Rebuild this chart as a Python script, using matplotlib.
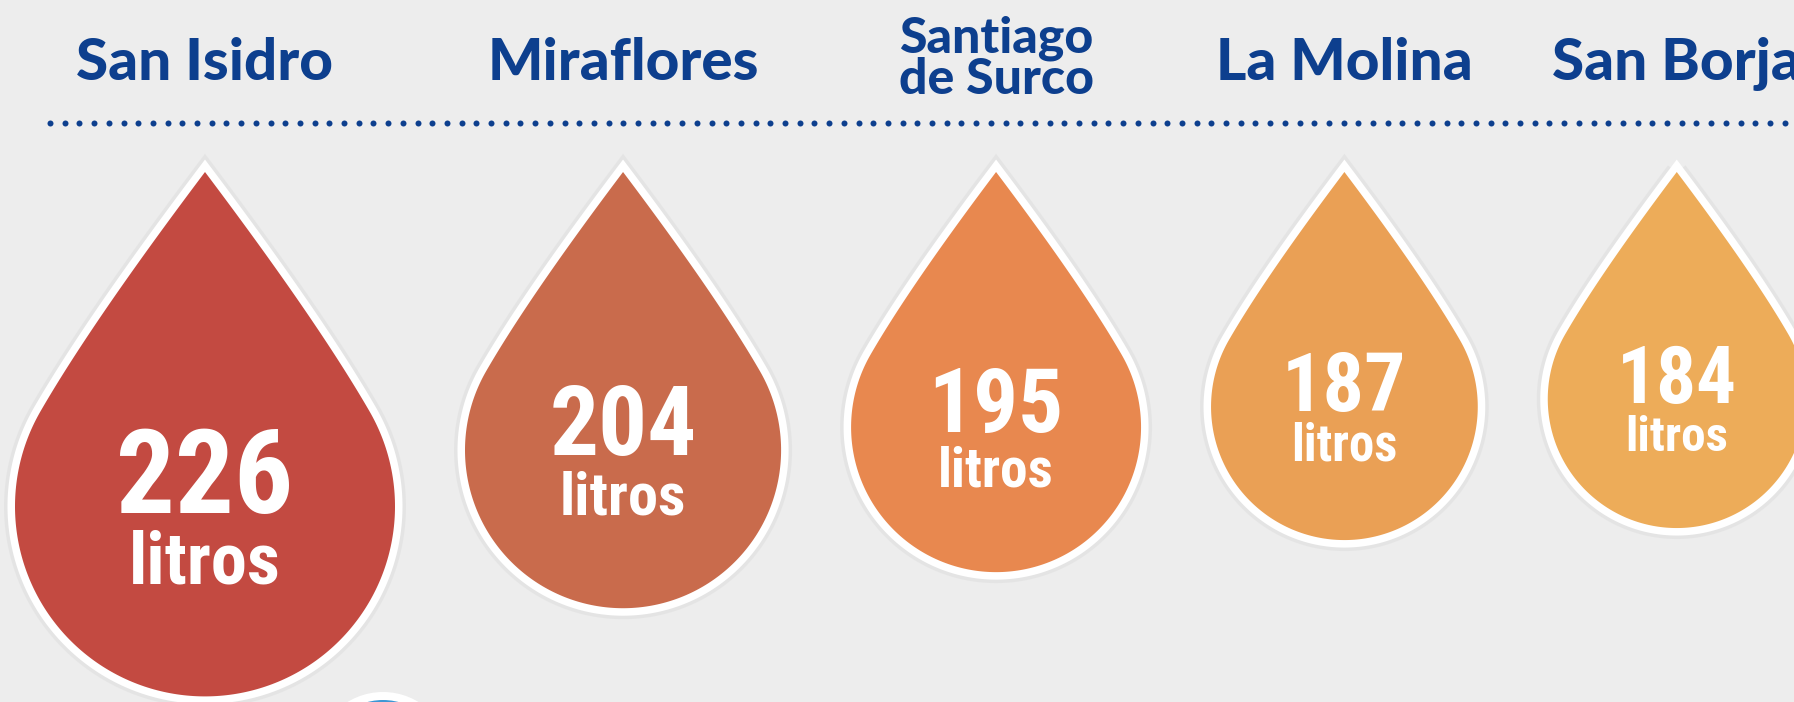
import numpy as np
import matplotlib.pyplot as plt
from matplotlib.patches import Polygon, Circle

# ---------- Data ----------
districts = ["San Isidro", "Miraflores", "Santiago\nde Surco", "La Molina", "San Borja"]
litros = [226, 204, 195, 187, 184]
unit = "litros"

# ---------- Style ----------
drop_colors = ["#c34a41", "#c96b4c", "#e8884f", "#eaa055", "#edac59"]
title_color = "#0d3f8e"
bg_color = "#ededed"
W, H = 1794, 702
PX = 72 / 100  # points per pixel at dpi 100
num_fam = ["Roboto Condensed", "Liberation Sans Narrow", "Arial Narrow",
           "Noto Sans Condensed", "Open Sans Condensed", "Noto Sans", "Roboto"]
title_fam = ["Lato", "DejaVu Sans"]

fig = plt.figure(figsize=(W / 100, H / 100), dpi=100)
fig.patch.set_facecolor(bg_color)
ax = fig.add_axes([0, 0, 1, 1])
ax.set_xlim(0, W)
ax.set_ylim(H, 0)
ax.axis("off")

# ---------- Size scale: litres -> drop radius ----------
radius = np.interp(litros, [min(litros), max(litros)], [129, 190])
gap = 70
cx = [205.0]
for i in range(1, len(litros)):
    cx.append(cx[-1] + radius[i - 1] + gap + radius[i])
tip_y = 172
k = 1.76                       # tip distance from centre, in radii
a1 = np.radians(60)            # where the side meets the circle
phi = np.radians(37)           # half angle at the tip
cy = tip_y + k * radius


def drop_outline(x, y, r):
    # unit drop: centre (0,0), y pointing down, tip at (0,-k)
    T = np.array([0.0, -k])
    E = np.array([np.sin(a1), -np.cos(a1)])
    d = -np.array([np.cos(a1), np.sin(a1)])
    t = (np.sin(a1) - np.tan(phi) * (k - np.cos(a1))) / (np.cos(a1) - np.tan(phi) * np.sin(a1))
    C = E + t * d
    s = np.linspace(0, 1, 60)[:, None]
    side = (1 - s) ** 2 * T + 2 * (1 - s) * s * C + s ** 2 * E
    a = np.linspace(a1, 2 * np.pi - a1, 240)
    arc = np.column_stack([np.sin(a), -np.cos(a)])
    left = side[::-1] * np.array([-1, 1])
    pts = np.vstack([side, arc[1:-1], left])
    return pts * r + np.array([x, y])


# ---------- Dotted rule ----------
xs = np.arange(50, W + 10, 14.7)
ax.scatter(xs, np.full(len(xs), 123), s=(6 * PX) ** 2, color=title_color, lw=0)

# ---------- Drops ----------
for x, y, r, c, v in zip(cx, cy, radius, drop_colors, litros):
    pts = drop_outline(x, y, r)
    ax.add_patch(Polygon(pts, closed=True, fc="none", ec="#cccccc", lw=22 * PX,
                         alpha=0.25, joinstyle="miter", zorder=1))
    ax.add_patch(Polygon(pts, closed=True, fc="white", ec="white", lw=15 * PX,
                         joinstyle="miter", zorder=2))
    ax.add_patch(Polygon(pts, closed=True, fc=c, ec="none", zorder=3))

    h_num = 0.44 * r
    h_lit = 0.62 * h_num
    g = 0.1 * r
    top = y - (h_num + g + h_lit) / 2
    ax.text(x, top + h_num, str(v), color="white", fontsize=h_num / 0.716 * PX,
            fontweight="bold", fontstretch="condensed", family=num_fam,
            ha="center", va="baseline", zorder=4)
    ax.text(x, top + h_num + g + h_lit, unit, color="white", fontsize=h_lit / 0.716 * PX,
            fontweight="bold", fontstretch="condensed", family=num_fam,
            ha="center", va="baseline", zorder=4)

# ---------- Titles ----------
for x, name in zip(cx, districts):
    if "\n" in name:
        ax.text(x, 94, name, color=title_color, fontsize=36, fontweight="black",
                family=title_fam, ha="center", va="baseline", linespacing=0.88, zorder=4)
    else:
        ax.text(x, 80, name, color=title_color, fontsize=42, fontweight="black",
                family=title_fam, ha="center", va="baseline", zorder=4)

# ---------- Partial circle at the bottom edge ----------
ax.add_patch(Circle((383, 760), 68, fc="white", ec="none", zorder=2))
ax.add_patch(Circle((383, 760), 60, fc="#3d97d5", ec="none", zorder=3))

fig.savefig("out.png", dpi=100, facecolor=fig.get_facecolor())
